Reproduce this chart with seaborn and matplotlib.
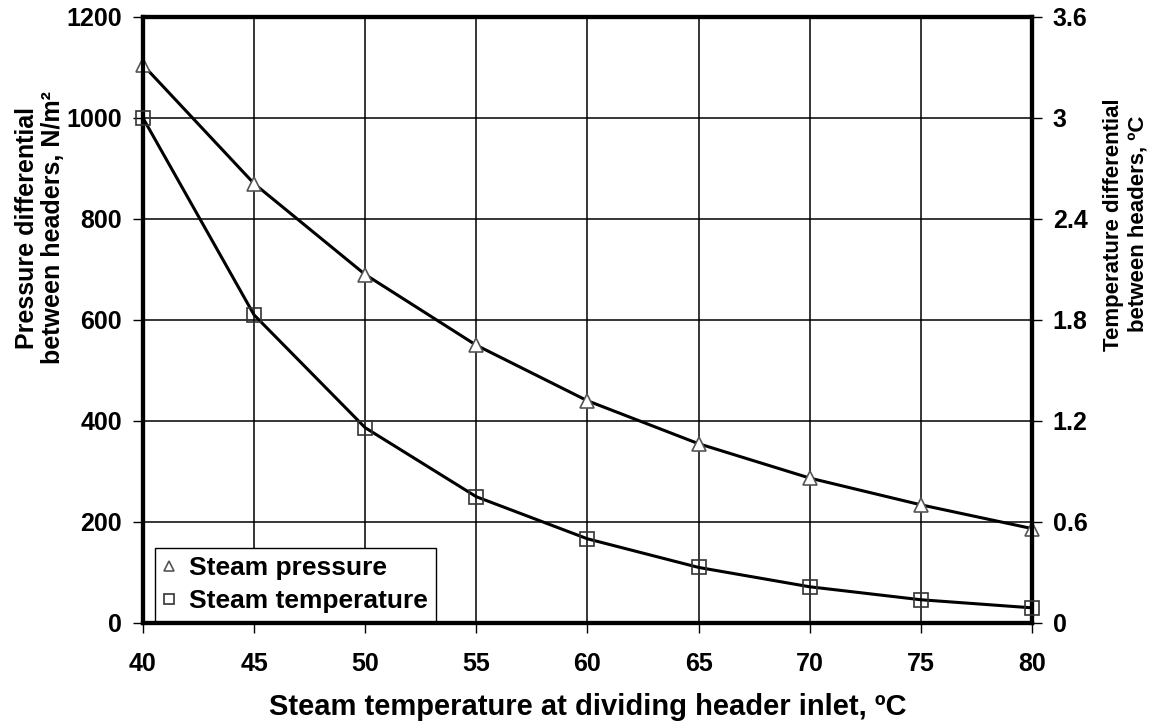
import seaborn as sns
import pandas as pd
import matplotlib.pyplot as plt
from matplotlib.ticker import MultipleLocator

# steam temperature at inlet, degC
inlet_temp = [40, 45, 50, 55, 60, 65, 70, 75, 80]
# pressure differential, N/m2 (left axis)
pressure = [1105, 870, 690, 550, 440, 355, 287, 234, 187]
# temperature differential, degC (right axis)
temp_diff = [3.0, 1.83, 1.16, 0.75, 0.50, 0.33, 0.215, 0.138, 0.09]

df = pd.DataFrame({'x': inlet_temp, 'p': pressure, 't': temp_diff})

sns.set_style("ticks")
plt.rcParams['font.family'] = ['Liberation Sans', 'DejaVu Sans']
plt.rcParams['font.weight'] = 'bold'
plt.rcParams['text.color'] = 'black'
plt.rcParams['axes.labelcolor'] = 'black'

fig = plt.figure(figsize=(11.7, 7.26), dpi=100)
ax = fig.add_axes([0.1222, 0.1419, 0.7598, 0.8347])
ax2 = ax.twinx()

sns.lineplot(data=df, x='x', y='p', ax=ax, color='black', lw=2.2, zorder=3)
sns.lineplot(data=df, x='x', y='t', ax=ax2, color='black', lw=2.2, zorder=3)
ax.plot(df['x'], df['p'], ls='none', marker='^', ms=10, mfc='white', mec='#555555', mew=1.2,
        zorder=4, clip_on=False, label='Steam pressure')
ax2.plot(df['x'], df['t'], ls='none', marker='s', ms=10, mfc='none', mec='#333333', mew=1.2,
         zorder=4, clip_on=False, label='Steam temperature')

ax.set_xlim(40, 80)
ax.set_ylim(0, 1200)
ax2.set_ylim(0, 3.6)
ax.xaxis.set_major_locator(MultipleLocator(5))
ax.yaxis.set_major_locator(MultipleLocator(200))
ax2.set_yticks([0, 0.6, 1.2, 1.8, 2.4, 3, 3.6])
ax2.set_yticklabels(['0', '0.6', '1.2', '1.8', '2.4', '3', '3.6'])

ax.grid(True, color='black', lw=1.1)
ax.set_axisbelow(True)

for a in (ax, ax2):
    for s in a.spines.values():
        s.set_linewidth(3)
        s.set_color('black')
        s.set_visible(True)
    a.tick_params(direction='out', length=7, width=1, colors='black', labelsize=18, pad=8)

ax.tick_params(axis='x', pad=14)

ax.set_xlabel('Steam temperature at dividing header inlet, ºC', fontsize=21, fontweight='bold', labelpad=12)
ax.set_ylabel('Pressure differential\nbetween headers, N/m²', fontsize=18, fontweight='bold',
              linespacing=1.1)
ax.yaxis.set_label_coords(-0.088, 0.652)
ax2.set_ylabel('Temperature differential\nbetween headers, ºC', fontsize=16, fontweight='bold',
               linespacing=1.2)
ax2.yaxis.set_label_coords(1.08, 0.658)

h1, l1 = ax.get_legend_handles_labels()
h2, l2 = ax2.get_legend_handles_labels()
leg = ax2.legend(h1 + h2, l1 + l2, loc='lower left', bbox_to_anchor=(0.0135, 0.003), borderaxespad=0,
                 fontsize=19, frameon=True, fancybox=False, edgecolor='black', framealpha=1,
                 handlelength=0.5, handletextpad=0.5, borderpad=0.3, labelspacing=0.35, markerscale=0.7)
leg.get_frame().set_linewidth(1)
leg.set_zorder(10)

fig.savefig('out.png', dpi=100)
